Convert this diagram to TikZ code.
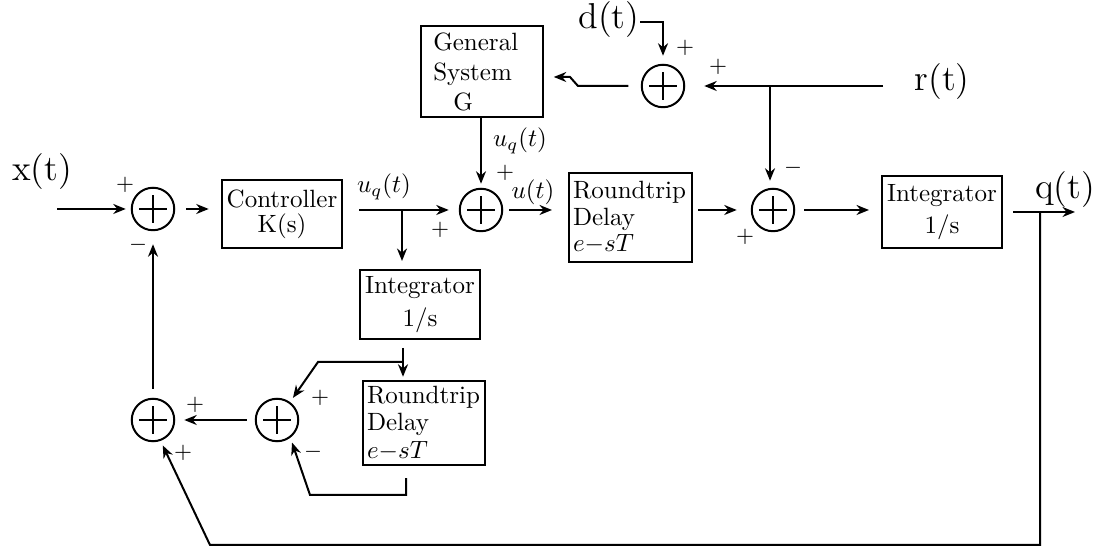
\documentclass[tikz,border=0pt]{standalone}
\usepackage{amsmath}
\usetikzlibrary{positioning, calc, arrows.meta}

\begin{document}
\begin{tikzpicture}[x=0.4pt, y=-0.4pt, >={Stealth[length=5pt, width=4pt]}, thick,
    blk/.style={draw, thick, inner sep=2pt},
    sumnode/.style={draw, thick, circle, minimum size=17pt, inner sep=0pt,
        path picture={\draw[thick]
            ([xshift=-5.6pt]path picture bounding box.center) -- ([xshift=5.6pt]path picture bounding box.center)
            ([yshift=-5.6pt]path picture bounding box.center) -- ([yshift=5.6pt]path picture bounding box.center);}},
    sig/.style={->, thick},
    sgn/.style={font=\small, inner sep=0pt},
    big/.style={font=\Large, inner sep=0pt}]
    \useasboundingbox (0,0) rectangle (1104,550);

    % summing junctions
    \node[sumnode] (sA) at (153,209) {};
    \node[sumnode] (sB) at (481,210) {};
    \node[sumnode] (sC) at (663,86) {};
    \node[sumnode] (sD) at (773,210) {};
    \node[sumnode] (sE) at (277,420) {};
    \node[sumnode] (sF) at (153,420) {};

    % blocks
    \node[blk, minimum width=48pt, minimum height=27.2pt, align=center] (ctrl) at (282,214) {Controller\\[-2pt]K(s)};
    \node[blk, text width=39pt, minimum height=36.4pt, align=left, inner xsep=4.8pt] (genG) at (482,71.5) {General\\System\\\hspace{0.8em}G};
    \node[blk, text width=46pt, minimum height=35.6pt, align=left, inner xsep=1.6pt] (rtA) at (630.5,217.5) {Roundtrip\\[-1.5pt]Delay\\[-1.5pt]$e{-}sT$};
    \node[blk, minimum width=48pt, minimum height=28.8pt, align=center] (intA) at (942,212) {Integrator\\[1pt]1/s};
    \node[blk, minimum width=46.4pt, minimum height=27.6pt, align=center] (intB) at (420,304.5) {Integrator\\[1pt]1/s};
    \node[blk, text width=45.6pt, minimum height=32pt, align=left, inner xsep=1.6pt] (rtB) at (424,423) {Roundtrip\\[-1pt]Delay\\[-1pt]$e{-}sT$};

    % signals
    \node[big] (xlab) at (42,172) {x(t)};
    \node[big] (dlab) at (609,20) {d(t)};
    \node[big] (rlab) at (942,82) {r(t)};
    \node[big] (qlab) at (1065,190) {q(t)};
    \node (uqA) at (384,187) {$u_q(t)$};
    \node (uqB) at (520,141) {$u_q(t)$};
    \node (ut) at (533,192) {$u(t)$};

    \coordinate (xs) at (57,209);
    \coordinate (qend) at (1075,212);
    \coordinate (tapQ) at (1040,212);
    \coordinate (bR) at (1040,545);
    \coordinate (bL) at (210,545);
    \coordinate (tapU) at (402,210);
    \coordinate (rs) at (883,86);
    \coordinate (tapR) at (770,86);
    \coordinate (ds) at (640,22);
    \coordinate (dc) at (663,22);
    \coordinate (k1) at (578,86);
    \coordinate (k2) at (570,77);
    \coordinate (tapB) at (403,362);
    \coordinate (bk1) at (318,362);
    \coordinate (lk1) at (406,495);
    \coordinate (lk2) at (310,495);

    % connectors
    \draw[sig, shorten >=2pt] (xs) -- (sA.west);
    \draw[sig, shorten <=4.4pt, shorten >=4.8pt] (sA.east) -- (sA.east -| ctrl.west);
    \draw[sig, shorten <=6.4pt, shorten >=4pt] (ctrl.east |- sB.west) -- (sB.west);
    \draw[sig, shorten >=3.2pt] (tapU) -- (tapU |- intB.north);
    \draw[sig, shorten >=1.6pt] (genG.south -| sB.north) -- (sB.north);
    \draw[sig, shorten <=2.4pt, shorten >=6.4pt] (sB.east) -- (sB.east -| rtA.west);
    \draw[sig, shorten <=2pt, shorten >=5.6pt] (rtA.east |- sD.west) -- (sD.west);
    \draw[sig, shorten <=3.6pt, shorten >=4.8pt] (sD.east) -- (sD.east -| intA.west);
    \draw[sig, shorten <=4pt] (intA.east |- qend) -- (qend);
    \draw[sig, shorten >=7.6pt] (rs) -- (sC.east);
    \draw[sig, shorten >=2.8pt] (tapR) -- (tapR |- sD.north);
    \draw[sig, shorten >=3.2pt] (ds) -- (dc) -- (sC.north);
    \draw[sig, shorten <=5pt, shorten >=4pt] (sC.west) -- (k1) -- (k2) -- (k2 -| genG.east);
    \draw[sig, shorten <=3.2pt, shorten >=1.2pt] (intB.south -| tapB) -- (tapB |- rtB.north);
    \draw[sig, shorten >=2pt] (tapB) -- (bk1) -- (sE.54);
    \draw[sig, shorten <=4.8pt, shorten >=2pt] (rtB.south -| lk1) -- (lk1) -- (lk2) -- (sE.-53);
    \draw[sig, shorten <=3.2pt, shorten >=3.6pt] (sE.west) -- (sF.east);
    \draw[sig, shorten <=3.6pt, shorten >=5.2pt] (sF.north) -- (sA.south);
    \draw[sig, shorten >=2pt] (tapQ) -- (bR) -- (bL) -- (sF.-70);

    % signs
    \node[sgn] (pA) at (125,185) {$+$};
    \node[sgn] (mA) at (138,245) {$-$};
    \node[sgn] (pB1) at (505,173) {$+$};
    \node[sgn] (pB2) at (440,230) {$+$};
    \node[sgn] (pC1) at (685,48) {$+$};
    \node[sgn] (pC2) at (718,67) {$+$};
    \node[sgn] (pD) at (745,237) {$+$};
    \node[sgn] (mD) at (793,168) {$-$};
    \node[sgn] (pE) at (320,398) {$+$};
    \node[sgn] (mE) at (313,452) {$-$};
    \node[sgn] (pF1) at (195,405) {$+$};
    \node[sgn] (pF2) at (183,453) {$+$};
\end{tikzpicture}
\end{document}
